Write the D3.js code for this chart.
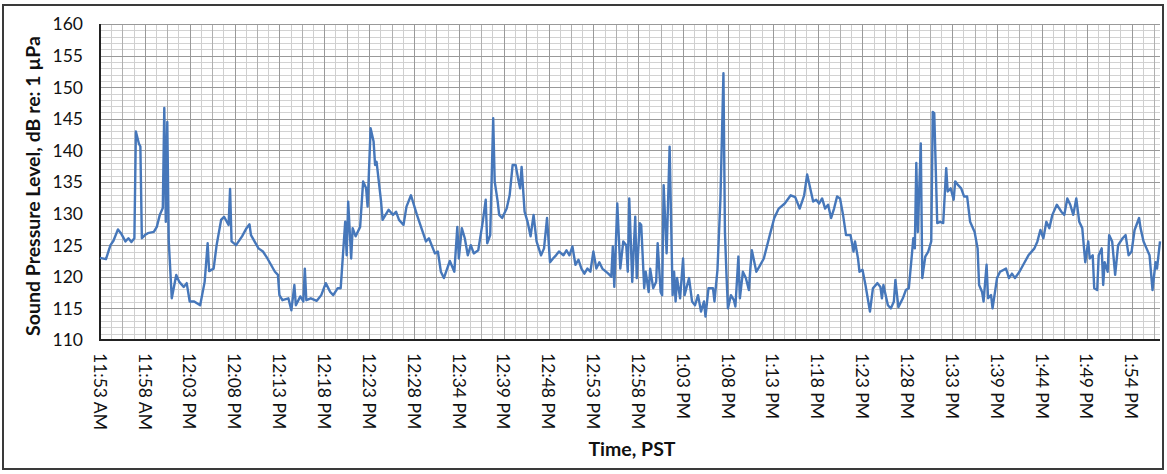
<!DOCTYPE html>
<html>
<head>
<meta charset="utf-8">
<script src="https://cdn.jsdelivr.net/npm/d3@7"></script>
<style>
  html, body { margin: 0; padding: 0; background: #fff; }
  svg { display: block; font-family: Lato, "Open Sans", sans-serif; }
</style>
</head>
<body>
<svg id="chart" width="1167" height="474"></svg>
<script>
// Sample number along the record (one category every half step; a time label every 30 samples)
const sampleNo = [
  0,4,7,9,12,14,17,19,21,23,24,26,27,28,30,32,36,38,40,42,43,44,45,46,48,51,53,56,58,60,63,67,70,72,73,76,78,81,83,86,87,88,91,95,98,100,101,106,109,112,117,119,120,122,126,128,130,131,134,136,137,138,141,145,148,151,154,156,159,161,
  164,165,166,168,169,171,174,176,178,179,181,183,184,185,188,189,193,196,198,200,203,205,208,212,215,218,220,224,226,228,230,234,237,239,240,242,244,246,248,250,253,256,258,259,261,263,264,266,267,269,272,274,276,278,280,281,282,284,286,288,290,292,295,297,299,
  301,303,305,307,310,312,314,316,318,320,322,324,326,328,330,332,334,336,340,342,343,344,346,348,350,352,353,354,356,358,359,361,362,364,365,367,368,370,372,373,375,376,377,379,381,383,384,385,386,388,390,391,394,396,398,400,402,404,405,407,410,411,413,415,417,418,419,420,422,424,425,427,428,430,432,434,435,436,439,441,444,448,451,454,458,462,465,468,471,473,474,477,479,481,483,485,487,489,491,493,495,497,499,
  502,504,505,507,508,510,512,515,517,520,522,523,524,527,529,531,532,534,537,539,541,543,544,545,546,547,549,550,552,554,556,557,558,560,562,564,566,567,569,571,572,574,576,578,580,582,585,587,588,590,591,593,594,596,597,600,
  602,606,608,610,612,615,618,621,625,627,629,631,633,635,637,640,643,645,647,649,651,653,655,657,659,661,662,664,665,667,668,670,671,672,674,675,677,679,681,684,686,688,690,692,695,696,698,700,702,704,706,707,709
];

// Sound pressure level for each sample, dB re: 1 µPa
const splDb = [
  123.0,122.8,125.0,125.7,127.5,126.9,125.6,126.1,125.5,126.1,143.0,141.1,140.6,126.1,126.6,126.9,127.1,127.9,129.8,130.9,146.7,128.7,144.5,125.6,116.6,120.3,119.2,118.4,119.0,116.1,116.1,115.5,119.2,125.3,120.9,121.3,125.0,129.0,129.5,128.2,133.9,125.6,125.0,126.4,127.7,128.3,126.6,124.5,124.0,122.9,120.8,120.3,117.1,116.3,116.6,114.7,118.7,115.5,116.9,116.1,121.3,116.3,116.6,116.2,117.1,119.0,117.6,117.1,118.2,118.2,
  128.7,123.4,131.9,122.9,127.7,126.4,127.9,135.1,134.0,131.1,143.5,141.4,137.7,138.2,131.9,129.0,130.6,129.8,130.3,129.0,128.2,131.1,132.9,129.8,127.7,125.6,126.1,123.7,124.0,120.8,119.8,122.5,120.8,127.9,122.9,127.7,126.1,123.4,125.0,123.7,124.2,128.7,132.2,125.3,126.6,145.1,135.1,131.9,129.8,129.3,130.8,132.9,137.7,137.7,135.1,134.0,137.4,130.3,128.7,126.4,129.8,125.6,123.4,124.5,129.3,
  122.3,122.9,123.4,124.0,123.4,124.2,123.4,124.8,121.9,122.7,121.3,120.5,121.3,120.8,124.0,121.3,122.3,121.3,120.5,120.0,124.8,118.4,131.6,121.3,125.6,125.0,120.8,132.4,119.2,129.5,119.8,128.5,128.2,118.2,120.8,117.6,121.3,118.2,119.2,125.3,117.6,117.1,134.5,123.7,140.6,117.1,120.8,116.1,119.8,116.6,122.9,117.1,119.8,116.1,115.5,117.1,114.5,116.1,113.7,118.2,118.2,116.1,121.1,132.4,152.2,127.1,120.5,115.0,117.1,116.3,115.3,123.2,116.6,120.8,119.8,117.9,121.3,124.2,120.8,121.6,122.9,126.6,129.3,130.8,131.6,132.9,132.6,130.8,132.9,136.2,135.1,131.9,132.2,131.6,132.4,130.8,131.4,129.3,130.8,132.7,132.4,129.8,126.6,
  126.6,124.0,125.6,122.9,120.8,121.1,118.7,114.5,118.2,119.0,118.4,116.6,118.7,115.5,115.0,116.1,119.5,115.2,116.6,117.9,118.2,123.4,126.1,124.5,138.0,127.1,141.1,119.8,123.2,124.0,125.6,146.1,145.9,128.5,128.7,128.5,137.2,133.5,134.0,132.2,135.1,134.5,134.0,132.7,132.7,128.7,127.1,124.5,118.7,117.6,116.1,121.9,116.6,117.1,115.0,119.8,
  120.8,121.3,119.8,120.5,119.8,120.8,122.1,123.4,124.5,125.6,127.4,126.1,128.7,127.7,129.8,131.4,130.3,129.8,132.4,131.4,129.8,132.4,128.7,127.7,122.3,125.6,122.9,123.4,118.2,117.9,123.4,124.5,118.7,122.3,120.8,126.6,125.6,120.3,125.0,126.1,126.6,123.4,124.0,127.4,129.3,127.7,125.6,124.5,123.4,117.9,122.3,121.3,125.6
];

// Category labels shown on the time axis
const timeLabels = [
  "11:53 AM","11:58 AM","12:03 PM","12:08 PM","12:13 PM","12:18 PM","12:23 PM","12:28 PM",
  "12:34 PM","12:39 PM","12:48 PM","12:53 PM","12:58 PM","1:03 PM","1:08 PM","1:13 PM",
  "1:18 PM","1:23 PM","1:28 PM","1:33 PM","1:39 PM","1:44 PM","1:49 PM","1:54 PM"
];
const labelEvery = 30;          // samples between time labels
const yTickValues = d3.range(110, 161, 5);

const series = sampleNo.map((s, i) => [s, splDb[i]]);

const svg = d3.select("#chart");
const plot = { left: 100, right: 1160, top: 24, bottom: 340 };

const x = d3.scaleLinear().domain([0, 709]).range([plot.left, plot.right]);
const y = d3.scaleLinear().domain([110, 160]).range([plot.bottom, plot.top]);

// Outer chart frame
svg.append("rect")
  .attr("x", 3).attr("y", 5).attr("width", 1160).attr("height", 464)
  .attr("fill", "none").attr("stroke", "#3a3a3a").attr("stroke-width", 2);

const grid = svg.append("g");

// Horizontal gridlines: minor every 1 dB, major every 5 dB
grid.selectAll("line.hmin")
  .data(d3.range(111, 161, 1).filter(v => v % 5 !== 0))
  .join("line")
  .attr("x1", plot.left).attr("x2", plot.right)
  .attr("y1", d => Math.round(y(d)) + 0.5).attr("y2", d => Math.round(y(d)) + 0.5)
  .attr("stroke", "#d2d2d2").attr("stroke-width", 1);

// Vertical gridlines at every quarter of a label interval
const vLines = d3.range(7.5, 709, 7.5);
grid.selectAll("line.v")
  .data(vLines)
  .join("line")
  .attr("y1", plot.top).attr("y2", plot.bottom)
  .attr("x1", d => Math.round(x(d)) + 0.5).attr("x2", d => Math.round(x(d)) + 0.5)
  .attr("stroke", d => d % labelEvery === 0 ? "#999" : (d % 15 === 0 ? "#b0b0b0" : "#cfcfcf"))
  .attr("stroke-width", 1);

grid.selectAll("line.hmaj")
  .data(yTickValues.filter(v => v > 110))
  .join("line")
  .attr("x1", plot.left).attr("x2", plot.right)
  .attr("y1", d => Math.round(y(d)) + 0.5).attr("y2", d => Math.round(y(d)) + 0.5)
  .attr("stroke", "#999").attr("stroke-width", 1);

// Axis lines
svg.append("line")
  .attr("x1", plot.left).attr("x2", plot.left)
  .attr("y1", plot.top).attr("y2", plot.bottom + 1)
  .attr("stroke", "#222").attr("stroke-width", 2);
svg.append("line")
  .attr("x1", plot.left - 1).attr("x2", plot.right)
  .attr("y1", plot.bottom).attr("y2", plot.bottom)
  .attr("stroke", "#222").attr("stroke-width", 2);

// Y tick labels
svg.append("g")
  .selectAll("text")
  .data(yTickValues)
  .join("text")
  .attr("x", 83)
  .attr("y", d => y(d))
  .attr("dy", "0.36em")
  .attr("text-anchor", "end")
  .attr("font-size", 17.5)
  .attr("fill", "#111")
  .text(d => d);

// Time labels, rotated to read downward
svg.append("g")
  .selectAll("text")
  .data(timeLabels)
  .join("text")
  .attr("transform", (d, i) => `translate(${x(i * labelEvery)},353) rotate(90)`)
  .attr("dy", "0.36em")
  .attr("text-anchor", "start")
  .attr("font-size", 17.5)
  .attr("fill", "#111")
  .text(d => d);

// Axis titles
svg.append("text")
  .attr("transform", "translate(33,186) rotate(-90)")
  .attr("dy", "0.36em")
  .attr("text-anchor", "middle")
  .attr("font-size", 19.5)
  .attr("font-weight", "bold")
  .attr("fill", "#111")
  .text("Sound Pressure Level, dB re: 1 µPa");

svg.append("text")
  .attr("x", 632).attr("y", 449)
  .attr("dy", "0.36em")
  .attr("text-anchor", "middle")
  .attr("font-size", 19.5)
  .attr("font-weight", "bold")
  .attr("fill", "#111")
  .text("Time, PST");

// SPL trace
const line = d3.line()
  .x(d => x(d[0]))
  .y(d => y(d[1]));

svg.append("path")
  .datum(series)
  .attr("d", line)
  .attr("fill", "none")
  .attr("stroke", "#4677ba")
  .attr("stroke-width", 2.4)
  .attr("stroke-linejoin", "round");
</script>
</body>
</html>
